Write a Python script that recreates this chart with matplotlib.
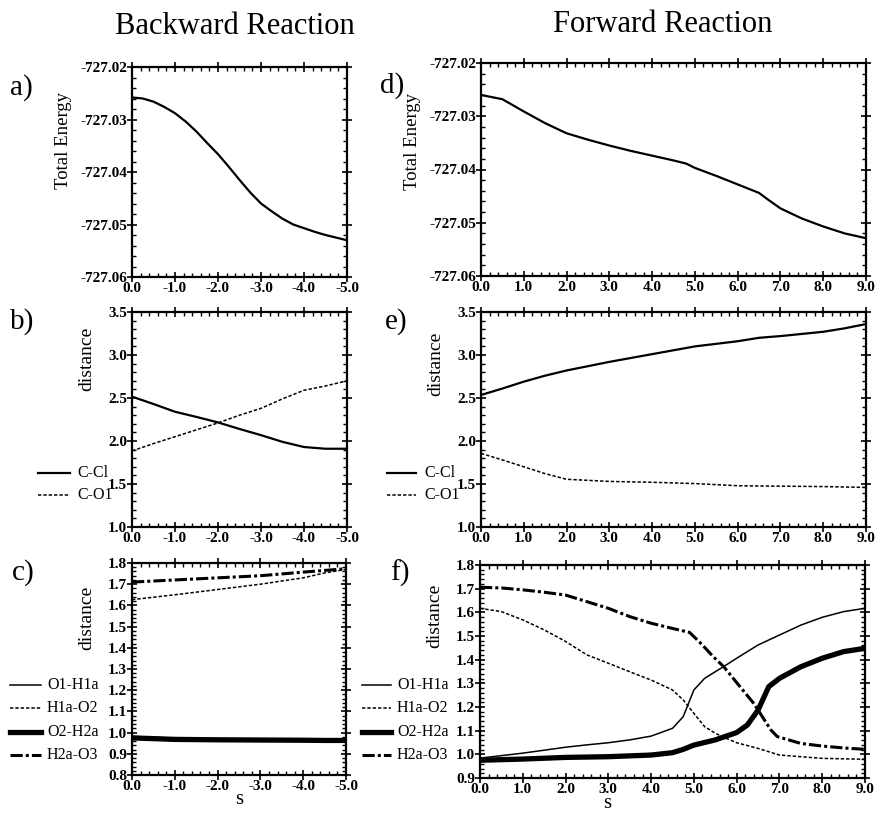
import matplotlib
matplotlib.use("Agg")
import matplotlib.pyplot as plt
from matplotlib.ticker import MultipleLocator, FormatStrFormatter

plt.rcParams["font.family"] = ["Liberation Serif", "DejaVu Serif"]

# ---------------- data ----------------
# Backward reaction (s from 0 to -5)
s_back_a = [0.0, -0.25, -0.5, -0.75, -1.0, -1.25, -1.5, -1.75, -2.0, -2.25,
            -2.5, -2.75, -3.0, -3.25, -3.5, -3.75, -4.0, -4.25, -4.5, -4.75,
            -5.0]
energy_back = [-727.0258, -727.0260, -727.0266, -727.0276, -727.0288,
               -727.0304, -727.0323, -727.0345, -727.0366, -727.0390,
               -727.0415, -727.0439, -727.0460, -727.0475, -727.0489,
               -727.0500, -727.0507, -727.0514, -727.0520, -727.0525,
               -727.0530]

s_back = [0.0, -0.5, -1.0, -1.5, -2.0, -2.5, -3.0, -3.5, -4.0, -4.5, -5.0]
ccl_back = [2.516, 2.43, 2.34, 2.28, 2.216, 2.14, 2.068, 1.99, 1.93, 1.91, 1.91]
co1_back = [1.885, 1.97, 2.05, 2.13, 2.21, 2.30, 2.38, 2.49, 2.59, 2.64, 2.70]

s_back_c = [0.0, -1.0, -2.0, -3.0, -4.0, -4.5, -5.0]
o1h1a_back = [0.982, 0.974, 0.970, 0.969, 0.968, 0.967, 0.966]
h1ao2_back = [1.627, 1.650, 1.675, 1.700, 1.730, 1.753, 1.770]
o2h2a_back = [0.975, 0.968, 0.966, 0.965, 0.964, 0.963, 0.963]
h2ao3_back = [1.710, 1.720, 1.730, 1.740, 1.757, 1.765, 1.773]

# Forward reaction (s from 0 to 9)
s_fwd = [0.0, 0.5, 1.0, 1.5, 2.0, 2.5, 3.0, 3.5, 4.0, 4.5, 4.8, 5.0, 5.5,
         6.0, 6.5, 6.7, 7.0, 7.5, 8.0, 8.5, 9.0]
energy_fwd = [-727.0260, -727.0268, -727.0291, -727.0313, -727.0332, -727.0344,
              -727.0355, -727.0365, -727.0374, -727.0383, -727.0389, -727.0397,
              -727.0412, -727.0428, -727.0444, -727.0456, -727.0473, -727.0492,
              -727.0507, -727.0520, -727.0529]

s_fwd_e = [0.0, 0.5, 1.0, 1.5, 2.0, 3.0, 4.0, 5.0, 6.0, 6.5, 7.0, 8.0, 8.5, 9.0]
ccl_fwd = [2.535, 2.61, 2.69, 2.76, 2.82, 2.92, 3.01, 3.10, 3.16, 3.20, 3.22,
           3.27, 3.31, 3.36]
co1_fwd = [1.856, 1.78, 1.70, 1.62, 1.555, 1.53, 1.52, 1.505, 1.48, 1.477,
           1.475, 1.47, 1.465, 1.46]

s_o1 = [0.0, 1.0, 2.0, 2.5, 3.0, 3.5, 4.0, 4.5, 4.75, 5.0, 5.25, 5.5, 5.75,
        6.0, 6.5, 7.0, 7.5, 8.0, 8.5, 9.0]
o1h1a_fwd = [0.984, 1.005, 1.030, 1.040, 1.049, 1.061, 1.077, 1.110, 1.159,
             1.272, 1.321, 1.349, 1.377, 1.406, 1.462, 1.504, 1.546, 1.579,
             1.603, 1.617]

s_h1 = [0.0, 0.5, 1.0, 1.5, 2.0, 2.5, 3.0, 3.5, 4.0, 4.5, 4.75, 5.0, 5.25,
        5.5, 5.75, 6.0, 6.5, 7.0, 7.5, 8.0, 9.0]
h1ao2_fwd = [1.617, 1.603, 1.568, 1.526, 1.477, 1.420, 1.385, 1.349, 1.314,
             1.272, 1.230, 1.173, 1.117, 1.089, 1.068, 1.049, 1.025, 0.997,
             0.990, 0.983, 0.979]

s_o2 = [0.0, 1.0, 2.0, 3.0, 4.0, 4.5, 4.75, 5.0, 5.5, 6.0, 6.25, 6.5, 6.75,
        7.0, 7.5, 8.0, 8.5, 9.0]
o2h2a_fwd = [0.975, 0.980, 0.987, 0.990, 0.997, 1.007, 1.021, 1.039, 1.061,
             1.092, 1.124, 1.187, 1.286, 1.321, 1.370, 1.406, 1.434, 1.448]

s_h2 = [0.0, 0.5, 1.0, 1.5, 2.0, 2.5, 3.0, 3.5, 4.0, 4.5, 4.9, 5.2, 5.45,
        5.7, 6.05, 6.4, 6.55, 6.8, 6.95, 7.5, 8.0, 8.5, 9.0]
h2ao3_fwd = [1.706, 1.703, 1.695, 1.685, 1.673, 1.645, 1.617, 1.582, 1.554,
             1.532, 1.515, 1.462, 1.413, 1.370, 1.292, 1.215, 1.173, 1.103,
             1.075, 1.046, 1.035, 1.027, 1.021]

# ---------------- figure ----------------
W, H = 875, 814
fig = plt.figure(figsize=(W / 100, H / 100), dpi=100)


def px_axes(left, top, right, bottom):
    return fig.add_axes([left / W, 1 - bottom / H, (right - left) / W,
                         (bottom - top) / H])


def style(ax, xlim, xmaj, ylim, ymaj, ymin, yfmt):
    ax.set_xlim(*xlim)
    ax.set_ylim(*ylim)
    ax.xaxis.set_major_locator(MultipleLocator(xmaj))
    ax.xaxis.set_minor_locator(MultipleLocator(0.2))
    ax.yaxis.set_major_locator(MultipleLocator(ymaj))
    ax.yaxis.set_minor_locator(MultipleLocator(ymin))
    ax.xaxis.set_major_formatter(FormatStrFormatter("%.1f"))
    ax.yaxis.set_major_formatter(FormatStrFormatter(yfmt))
    ax.tick_params(which="major", direction="inout", length=7, width=1.2,
                   top=True, right=True, labelsize=11, pad=0)
    ax.tick_params(which="minor", direction="in", length=3, width=1,
                   top=True, right=True)
    for sp in ax.spines.values():
        sp.set_linewidth(1.6)
    for lab in ax.get_xticklabels() + ax.get_yticklabels():
        lab.set_fontweight("bold")


def ylab(ax, text, x, y, size=14):
    ax.set_ylabel(text, fontsize=size)
    ax.yaxis.set_label_coords(x, y)


lw_main = 1.6
dash_short = (0, (2.2, 1.3))
dash_dot = (0, (4, 1, 1, 1))

# a) backward energy
ax_a = px_axes(132, 67, 347, 277)
ax_a.plot(s_back_a, energy_back, color="black", lw=lw_main)
style(ax_a, (0, -5), 1.0, (-727.06, -727.02), 0.01, 0.002, "%.2f")
ylab(ax_a, "Total Energy", -0.28, 0.65, 13.5)

# d) forward energy
ax_d = px_axes(481, 63, 866, 276)
ax_d.plot(s_fwd, energy_fwd, color="black", lw=lw_main)
style(ax_d, (0, 9), 1.0, (-727.06, -727.02), 0.01, 0.002, "%.2f")
ylab(ax_d, "Total Energy", -0.156, 0.63, 13.5)

# b) backward C-Cl / C-O1
ax_b = px_axes(132, 312, 347, 527)
ax_b.plot(s_back, ccl_back, color="black", lw=lw_main)
ax_b.plot(s_back, co1_back, color="black", lw=1.1, linestyle=dash_short)
style(ax_b, (0, -5), 1.0, (1.0, 3.5), 0.5, 0.1, "%.1f")
ylab(ax_b, "distance", -0.172, 0.78)

# e) forward C-Cl / C-O1
ax_e = px_axes(481, 312, 866, 527)
ax_e.plot(s_fwd_e, ccl_fwd, color="black", lw=lw_main)
ax_e.plot(s_fwd_e, co1_fwd, color="black", lw=1.1, linestyle=dash_short)
style(ax_e, (0, 9), 1.0, (1.0, 3.5), 0.5, 0.1, "%.1f")
ylab(ax_e, "distance", -0.096, 0.76)

# c) backward H-bond distances
ax_c = px_axes(132, 563, 346, 775)
ax_c.plot(s_back_c, o1h1a_back, color="black", lw=1.1)
ax_c.plot(s_back_c, h1ao2_back, color="black", lw=1.1, linestyle=dash_short)
ax_c.plot(s_back_c, o2h2a_back, color="black", lw=3.8)
ax_c.plot(s_back_c, h2ao3_back, color="black", lw=2.2, linestyle=dash_dot)
style(ax_c, (0, -5), 1.0, (0.8, 1.8), 0.1, 0.02, "%.1f")
ylab(ax_c, "distance", -0.172, 0.74)
ax_c.set_xlabel("s", fontsize=15)
ax_c.xaxis.set_label_coords(0.5, -0.07)

# f) forward H-bond distances
ax_f = px_axes(480, 565, 865, 778)
ax_f.plot(s_o1, o1h1a_fwd, color="black", lw=1.1)
ax_f.plot(s_h1, h1ao2_fwd, color="black", lw=1.1, linestyle=dash_short)
ax_f.plot(s_o2, o2h2a_fwd, color="black", lw=3.8)
ax_f.plot(s_h2, h2ao3_fwd, color="black", lw=2.2, linestyle=dash_dot)
style(ax_f, (0, 9), 1.0, (0.9, 1.8), 0.1, 0.02, "%.1f")
ylab(ax_f, "distance", -0.096, 0.76)
ax_f.set_xlabel("s", fontsize=15)
ax_f.xaxis.set_label_coords(0.33, -0.075)


# legends drawn by hand, to the left of the panels
def legend(x0, x1, xt, ys, labels, styles):
    for y, lab, (lw, ls) in zip(ys, labels, styles):
        fig.add_artist(plt.Line2D([x0 / W, x1 / W], [1 - y / H, 1 - y / H],
                                  color="black", lw=lw, linestyle=ls))
        fig.text(xt / W, 1 - y / H, lab, fontsize=11.5, va="center",
                 ha="left")


pair_labels = ["C-Cl", "C-O1"]
pair_styles = [(lw_main, "-"), (1.1, dash_short)]
hb_labels = ["O1-H1a", "H1a-O2", "O2-H2a", "H2a-O3"]
hb_styles = [(1.1, "-"), (1.1, dash_short), (3.8, "-"), (2.2, dash_dot)]

legend(38, 70, 77, [473, 495], pair_labels, pair_styles)
legend(387, 416, 424, [473, 495], pair_labels, pair_styles)
legend(10, 41, 47, [685, 708, 732, 755], hb_labels, hb_styles)
legend(362, 391, 397, [685, 708, 732, 755], hb_labels, hb_styles)

# panel letters and column titles
for lab, x, y in [("a)", 10, 88), ("b)", 10, 322), ("c)", 12, 573),
                  ("d)", 380, 86), ("e)", 385, 322), ("f)", 390, 573)]:
    fig.text(x / W, 1 - y / H, lab, fontsize=21, va="center", ha="left")

fig.text(235 / W, 1 - 27 / H, "Backward Reaction", fontsize=22,
         ha="center", va="center")
fig.text(663 / W, 1 - 25 / H, "Forward Reaction", fontsize=22,
         ha="center", va="center")

fig.savefig("out.png", dpi=100)
